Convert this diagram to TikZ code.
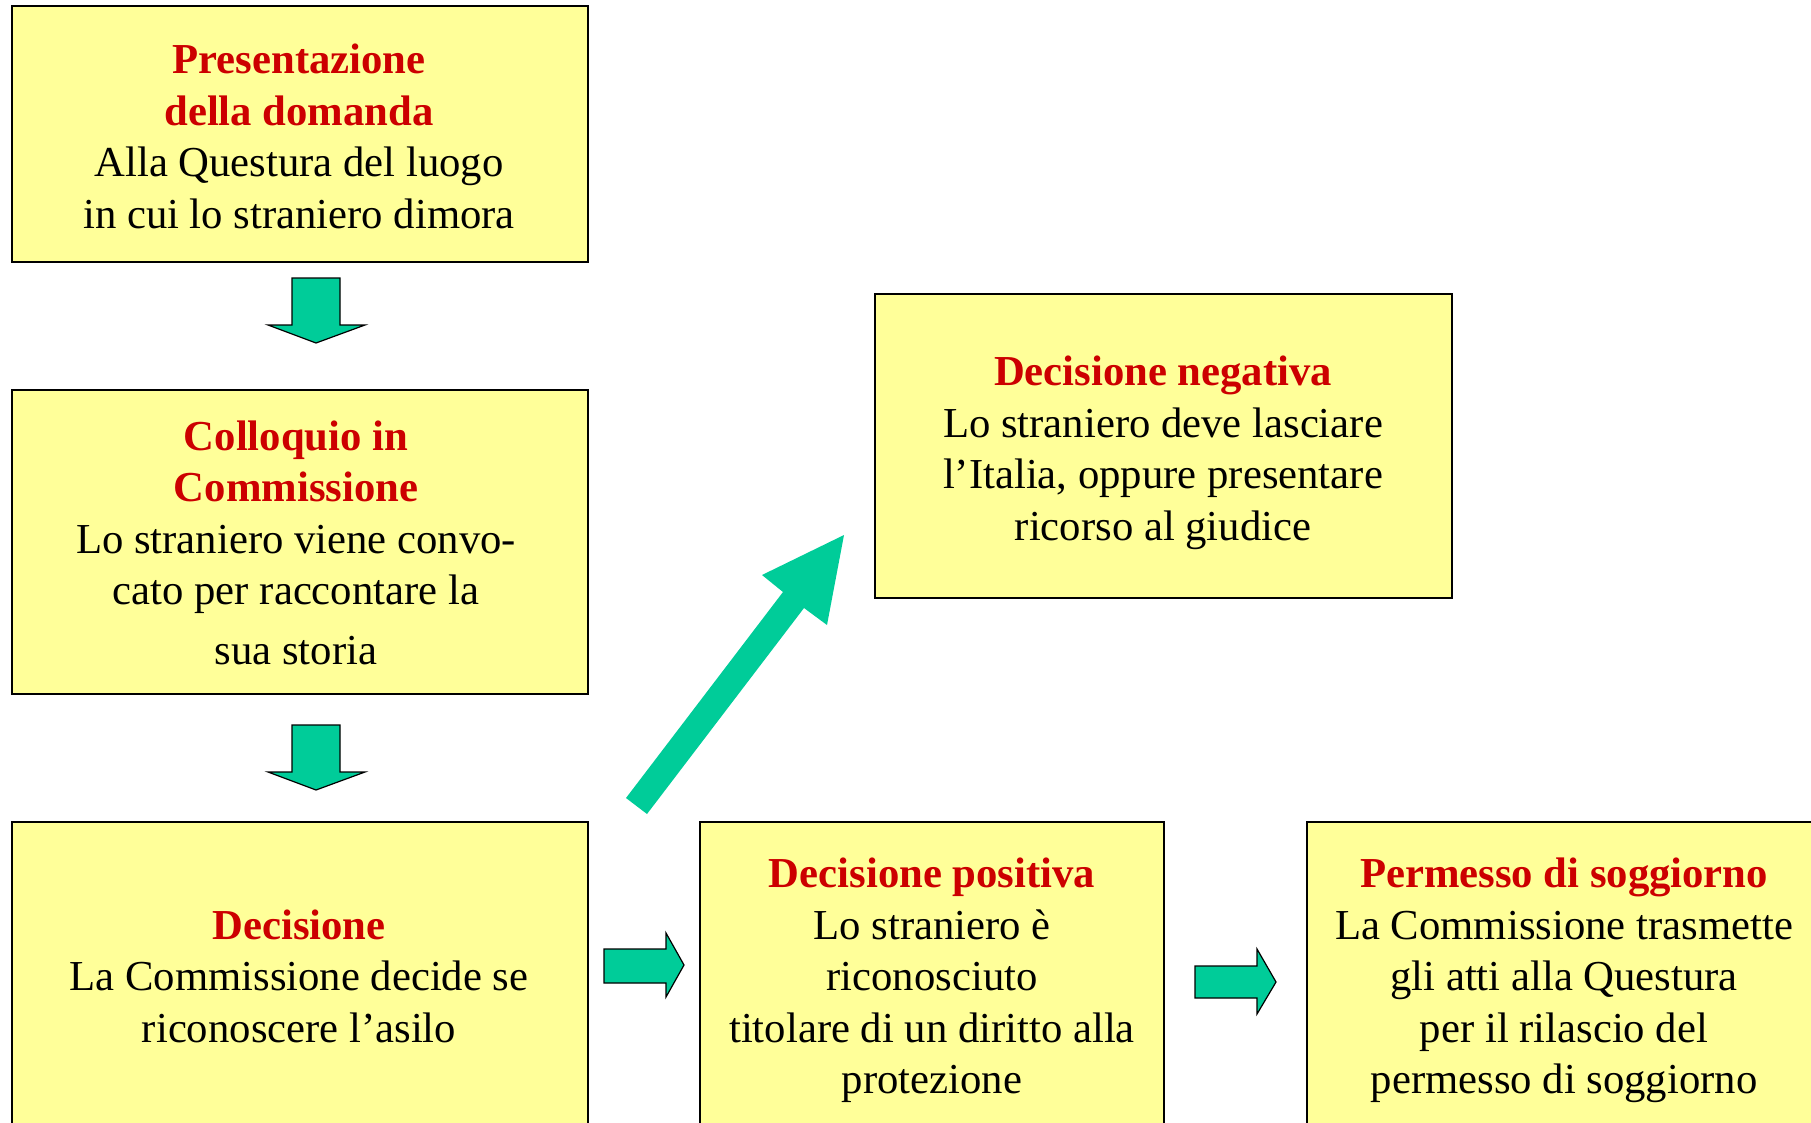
\documentclass[tikz,border=0pt]{standalone}
\usepackage{fontspec}
\setmainfont{Liberation Serif}
\definecolor{boxfill}{HTML}{FFFF99}
\definecolor{arrowgreen}{HTML}{00CC99}
\definecolor{titlered}{HTML}{CC0000}
\begin{document}
\begin{tikzpicture}[x=1pt,y=-1pt,
  stepbox/.style={draw=black,line width=2pt,fill=boxfill,inner sep=0pt,outer sep=0pt},
  txt/.style={align=center,font=\fontsize{42.7}{51.5}\selectfont,inner sep=0pt},
  blockarrow/.style={fill=arrowgreen,draw=black,line width=1.2pt,line join=miter},
  bigarrow/.style={fill=arrowgreen,draw=none}]
\useasboundingbox (0,0) rectangle (1811,1122);
\clip (0,0) rectangle (1811,1122);
% boxes
\draw[stepbox] (11.5,6) rectangle (588,262);
\draw[stepbox] (11.5,390) rectangle (588,694);
\draw[stepbox] (11.5,822) rectangle (588,1140);
\draw[stepbox] (875,294) rectangle (1452,598);
\draw[stepbox] (700,822) rectangle (1164,1140);
\draw[stepbox] (1307,822) rectangle (1840,1140);
% texts
\node[txt] (t1) at (299,136.5) {{\bfseries\color{titlered}Presentazione}\\{\bfseries\color{titlered}della domanda}\\Alla Questura del luogo\\in cui lo straniero dimora};
\node[txt] (t2) at (296,542.5) {{\bfseries\color{titlered}Colloquio in}\\{\bfseries\color{titlered}Commissione}\\Lo straniero viene convo-\\cato per raccontare la\\[8pt]sua storia};
\node[txt] (t3) at (299,976) {{\bfseries\color{titlered}Decisione}\\La Commissione decide se\\riconoscere l’asilo};
\node[txt] (tn) at (1163,453) {{\bfseries\color{titlered}Decisione negativa}\\Lo straniero deve lasciare\\l’Italia, oppure presentare\\ricorso al giudice};
\node[txt] (tp) at (932,980.5) {{\bfseries\color{titlered}Decisione positiva}\\Lo straniero è\\riconosciuto\\titolare di un diritto alla\\protezione};
\node[txt] (tq) at (1564,980.5) {{\bfseries\color{titlered}Permesso di soggiorno}\\La Commissione trasmette\\gli atti alla Questura\\per il rilascio del\\permesso di soggiorno};
% down arrows
\draw[blockarrow] (292,278) -- (340,278) -- (340,325) -- (365,325) -- (316,343) -- (268,325) -- (292,325) -- cycle;
\draw[blockarrow] (292,725) -- (340,725) -- (340,772) -- (365,772) -- (316,790) -- (268,772) -- (292,772) -- cycle;
% right arrows
\draw[blockarrow] (604,949) -- (666,949) -- (666,933) -- (684,965) -- (666,997) -- (666,983) -- (604,983) -- cycle;
\draw[blockarrow] (1195,966) -- (1257,966) -- (1257,949) -- (1276,982) -- (1257,1014) -- (1257,998) -- (1195,998) -- cycle;
% diagonal arrow
\fill[bigarrow] (626,798) -- (783,592) -- (762,575) -- (844,535) -- (827,625) -- (804,608) -- (647,814) -- cycle;
\end{tikzpicture}
\end{document}
